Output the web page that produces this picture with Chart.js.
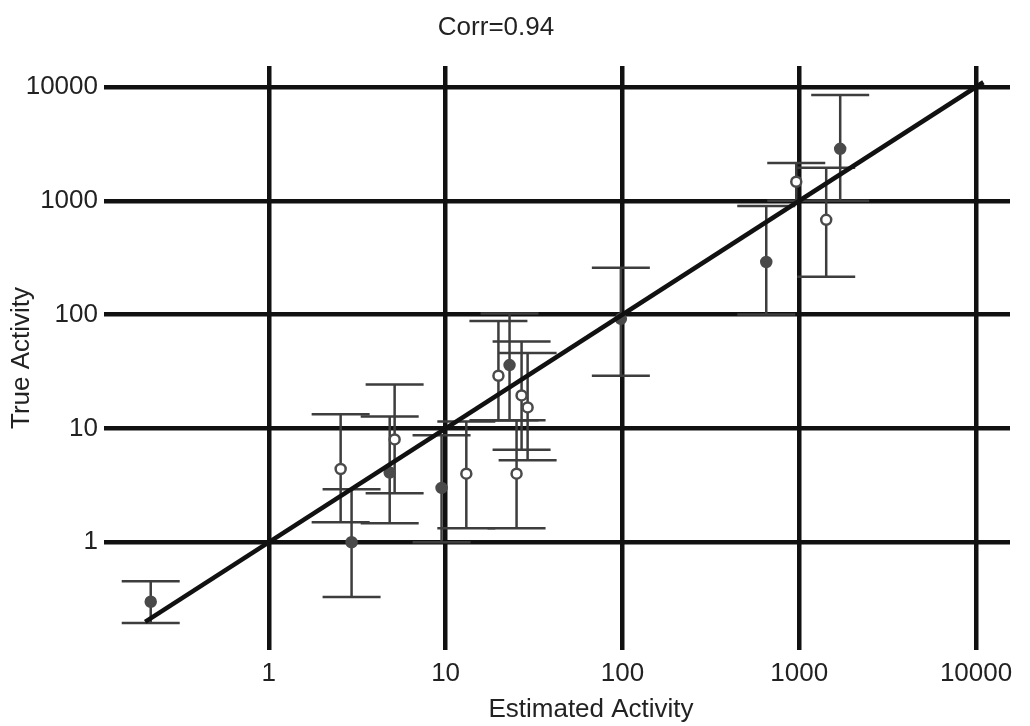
<!DOCTYPE html>
<html>
<head>
<meta charset="utf-8">
<script src="https://cdn.jsdelivr.net/npm/chart.js@4.4.0/dist/chart.umd.min.js"></script>
<style>
  html, body { margin: 0; padding: 0; background: #fff; }
  #wrap { width: 1030px; height: 726px; }
</style>
</head>
<body>
<div id="wrap"><canvas id="myChart" width="1030" height="726"></canvas></div>
<script>
// values
const estX    = [0.215, 2.55, 2.94, 4.83, 5.15, 9.49, 13.1, 19.9, 23.0, 25.2, 26.9, 29.1, 98, 651, 962, 1421, 1705];
const trueY   = [0.30, 4.4, 1.0, 4.1, 8.0, 3.0, 4.0, 29, 36, 4.0, 19.5, 15.3, 92, 290, 1470, 680, 2860];
const errLow  = [0.195, 1.5, 0.33, 1.47, 2.69, 1.0, 1.33, 11.8, 11.8, 1.33, 6.5, 5.24, 29, 100, 1000, 215, 1000];
const errHigh = [0.455, 13.3, 2.92, 12.7, 24.3, 8.7, 11.5, 88, 102, 11.8, 58, 46, 258, 900, 2150, 1950, 8500];
const marker  = ['f', 'o', 'f', 'f', 'o', 'f', 'o', 'o', 'f', 'o', 'o', 'o', 'f', 'f', 'o', 'o', 'f'];
const fitLine = [0.2, 11000];
const tickVals = [1, 10, 100, 1000, 10000];

const FONT = 'Liberation Sans, Arial, sans-serif';
const FSIZE = 26;

const errorBars = {
    id: 'errorBars',
    beforeDatasetsDraw(chart) {
        const ctx = chart.ctx;
        const x = chart.scales.x, y = chart.scales.y;
        ctx.save();
        ctx.strokeStyle = '#3d3d3d';
        ctx.lineWidth = 2.5;
        for (let i = 0; i < estX.length; i++) {
            const px = x.getPixelForValue(estX[i]);
            const top = y.getPixelForValue(errHigh[i]);
            const bot = y.getPixelForValue(errLow[i]);
            ctx.beginPath();
            ctx.moveTo(px, top); ctx.lineTo(px, bot);
            ctx.moveTo(px - 29, top); ctx.lineTo(px + 29, top);
            ctx.moveTo(px - 29, bot); ctx.lineTo(px + 29, bot);
            ctx.stroke();
        }
        ctx.restore();
    }
};

const titles = {
    id: 'titles',
    afterDraw(chart) {
        const ctx = chart.ctx;
        ctx.save();
        ctx.fillStyle = '#222';
        ctx.font = FSIZE + 'px ' + FONT;
        ctx.textAlign = 'center';
        ctx.textBaseline = 'middle';
        ctx.fillText('Corr=0.94', 496, 28);
        ctx.fillText('Estimated Activity', 591, 710);
        ctx.restore();
    }
};

const ctx = document.getElementById('myChart');

new Chart(ctx, {
    type: 'scatter',
    data: {
        datasets: [{
            data: fitLine.map(v => ({x: v, y: v})),
            showLine: true,
            borderColor: '#111',
            borderWidth: 4.5,
            pointRadius: 0,
            order: 1
        }, {
            data: estX.map((v, i) => ({x: v, y: trueY[i]})),
            pointRadius: 5,
            pointBorderWidth: 2.5,
            pointBorderColor: '#4a4a4a',
            pointBackgroundColor: marker.map(m => m === 'f' ? '#4a4a4a' : '#ffffff'),
            order: 2
        }]
    },
    options: {
        responsive: false,
        animation: false,
        events: [],
        layout: { padding: { top: 66, right: 20, left: 0, bottom: 0 } },
        plugins: {
            legend: { display: false },
            tooltip: { enabled: false }
        },
        scales: {
            x: {
                type: 'logarithmic',
                min: 0.117,
                max: 15560,
                afterBuildTicks: axis => { axis.ticks = tickVals.map(v => ({value: v})); },
                afterFit: axis => { axis.height = 76; },
                border: { display: false },
                grid: { color: '#111', lineWidth: 4.5, drawTicks: false },
                ticks: {
                    padding: 8,
                    color: '#222',
                    font: { size: FSIZE, family: FONT },
                    callback: v => String(v)
                }
            },
            y: {
                type: 'logarithmic',
                min: 0.113,
                max: 15280,
                afterBuildTicks: axis => { axis.ticks = tickVals.map(v => ({value: v})); },
                afterFit: axis => { axis.width = 104; },
                border: { display: false },
                grid: { color: '#111', lineWidth: 4.5, drawTicks: false },
                ticks: {
                    padding: 6,
                    color: '#222',
                    font: { size: FSIZE, family: FONT },
                    callback: v => String(v)
                },
                title: {
                    display: true,
                    text: 'True Activity',
                    color: '#222',
                    font: { size: FSIZE, family: FONT },
                    padding: { top: 6, bottom: 0 }
                }
            }
        }
    },
    plugins: [errorBars, titles]
});
</script>
</body>
</html>
